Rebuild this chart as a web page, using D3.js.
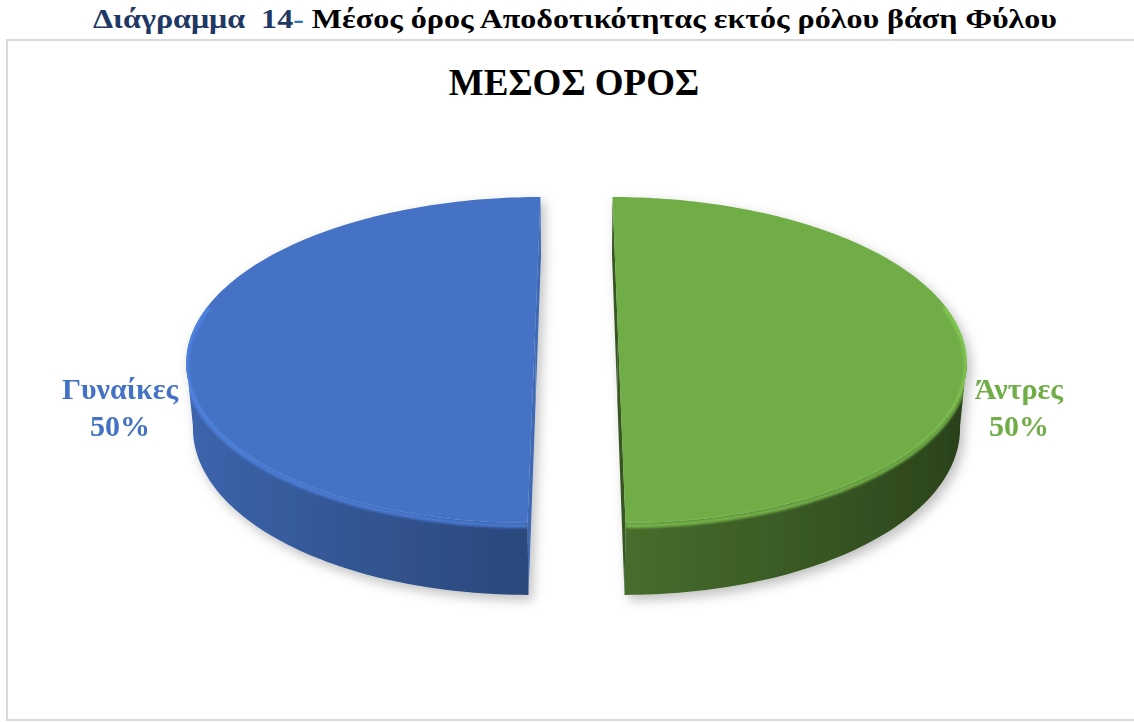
<!DOCTYPE html>
<html>
<head>
<meta charset="utf-8">
<script src="https://cdn.jsdelivr.net/npm/d3@7"></script>
<style>
  body { margin: 0; background: #fff; }
  svg { display: block; }
  text { font-family: "Liberation Serif", "Times New Roman", serif; font-weight: bold; }
</style>
</head>
<body>
<svg id="chart" width="1134" height="722"></svg>
<script>
// ---- data ----
const categories = ["Άντρες", "Γυναίκες"];
const values = [50, 50];
const colors = ["#70AD47", "#4472C4"];
const headingParts = [
  ["Διάγραμμα  14", "#1F3864"],
  ["-", "#2E74B5"],
  [" Μέσος όρος Αποδοτικότητας εκτός ρόλου βάση Φύλου", "#000000"]
];
const chartTitle = "ΜΕΣΟΣ ΟΡΟΣ";

// ---- layout ----
const svg = d3.select("#chart");

// 3D view of the pie: unit-radius disc, tilted and seen in perspective
const view = {
  cx: 576.5, cy: 335.1, scale: 343.7,
  tilt: Math.asin(0.463), dist: 5.81,
  depth: 0.215, explode: 0.1208
};
const sinT = Math.sin(view.tilt), cosT = Math.cos(view.tilt);
const sx = d3.scaleLinear().domain([0, 1]).range([view.cx, view.cx + view.scale]);
const sy = d3.scaleLinear().domain([0, 1]).range([view.cy, view.cy + view.scale]);

function project(X, Y, Z) {
  const c = Y * sinT + Z * cosT;
  const s = view.dist / (view.dist - c);
  return [sx(X * s), sy((Z * sinT - Y * cosT) * s)];
}

// frame
svg.append("rect")
  .attr("x", 7).attr("y", 40).attr("width", 1140).attr("height", 680)
  .attr("fill", "#fff").attr("stroke", "#d9d9d9").attr("stroke-width", 2);

// heading above the frame
const heading = svg.append("text")
  .attr("x", 93).attr("y", 28)
  .attr("font-size", 28)
  .attr("textLength", 964).attr("lengthAdjust", "spacingAndGlyphs")
  .style("white-space", "pre");
headingParts.forEach(([t, c]) => heading.append("tspan").attr("fill", c).text(t));

// chart title
svg.append("text")
  .attr("x", 574).attr("y", 95)
  .attr("text-anchor", "middle")
  .attr("font-size", 37).attr("fill", "#000")
  .text(chartTitle);

// ---- filters ----
const defs = svg.append("defs");
const shadow = defs.append("filter").attr("id", "pieShadow")
  .attr("x", "-10%").attr("y", "-10%").attr("width", "130%").attr("height", "140%");
shadow.append("feDropShadow")
  .attr("dx", 4).attr("dy", 5).attr("stdDeviation", 6)
  .attr("flood-color", "#000").attr("flood-opacity", 0.25);
const soft = defs.append("filter").attr("id", "soften");
soft.append("feGaussianBlur").attr("stdDeviation", 1.3);

// ---- pie ----
const pie = d3.pie().sort(null).startAngle(0).endAngle(2 * Math.PI);
const arcs = pie(values);
const total = d3.sum(values);
const pct = d3.format(".0%");
const line = d3.line();
const N = 160;

function shade(base, f) {
  const c = d3.rgb(base);
  return d3.rgb(c.r * f, c.g * f, c.b * f).formatHex();
}
// side brightness: lit from the left, darker toward the right
const sideLight = a => 0.63 + 0.27 * (-Math.sin(a));

const sliceInfo = arcs.map((d, i) => {
  const mid = (d.startAngle + d.endAngle) / 2;
  const ox = view.explode * Math.sin(mid), oz = -view.explode * Math.cos(mid);
  const rim = (a, Y) => project(ox + Math.sin(a), Y, oz - Math.cos(a));
  const ctr = (Y) => project(ox, Y, oz);
  const angles = d3.range(N + 1).map(j => d.startAngle + (d.endAngle - d.startAngle) * j / N);
  return { d, i, mid, ox, oz, rim, ctr, angles, color: colors[i] };
});

const pieG = svg.append("g").attr("filter", "url(#pieShadow)");

sliceInfo.forEach(s => {
  const g = pieG.append("g").attr("class", "slice");
  const H = -view.depth;
  const side = Math.sin(s.mid) >= 0 ? 1 : -1;

  // cut face along the diameter (thin sliver in this view)
  [s.d.startAngle, s.d.endAngle].forEach(a => {
    g.append("path")
      .attr("d", line([s.ctr(0), s.rim(a, 0), s.rim(a, H), s.ctr(H)]) + "Z")
      .attr("fill", shade(s.color, side > 0 ? 0.5 : 0.92));
  });

  // outer side (visible front part only) with a horizontal shading gradient
  const topRim = s.angles.map(a => s.rim(a, 0));
  const ext = side > 0 ? d3.greatestIndex(topRim, p => p[0]) : d3.leastIndex(topRim, p => p[0]);
  const zLimit = -Math.cos(s.angles[ext]) - 0.02;
  const vis = s.angles.filter(a => -Math.cos(a) >= zLimit);
  const stops = vis.map(a => ({ x: s.rim(a, 0)[0], c: shade(s.color, sideLight(a)) }))
    .sort((p, q) => p.x - q.x);
  const x1 = stops[0].x, x2 = stops[stops.length - 1].x;
  const gradId = "side" + s.i;
  const grad = defs.append("linearGradient").attr("id", gradId)
    .attr("gradientUnits", "userSpaceOnUse")
    .attr("x1", x1).attr("x2", x2).attr("y1", 0).attr("y2", 0);
  stops.filter((p, k) => k % 6 === 0 || k === stops.length - 1).forEach(p => {
    grad.append("stop").attr("offset", (p.x - x1) / (x2 - x1)).attr("stop-color", p.c);
  });
  const sidePts = vis.map(a => s.rim(a, 0)).concat(vis.slice().reverse().map(a => s.rim(a, H)));
  g.append("path")
    .attr("d", line(sidePts) + "Z")
    .attr("fill", `url(#${gradId})`);

  // top face
  const topPts = [s.ctr(0)].concat(topRim);
  g.append("path")
    .attr("d", line(topPts) + "Z")
    .attr("fill", s.color);

  // rounded rim highlight along the visible front edge
  const clipId = "clip" + s.i;
  const cp = defs.append("clipPath").attr("id", clipId);
  cp.append("path").attr("d", line(topPts) + "Z");
  cp.append("path").attr("d", line(sidePts) + "Z");
  const front = s.angles.filter(a => -Math.cos(a) > -0.2);
  g.append("path")
    .attr("d", line(front.map(a => s.rim(a, -0.008))))
    .attr("fill", "none")
    .attr("stroke", d3.color(s.color).brighter(0.5))
    .attr("stroke-width", 5).attr("stroke-opacity", 0.7)
    .attr("filter", "url(#soften)")
    .attr("clip-path", `url(#${clipId})`);
});

// ---- labels ----
sliceInfo.forEach(s => {
  const side = Math.sin(s.mid) >= 0 ? 1 : -1;
  const pts = s.angles.map(a => s.rim(a, 0));
  const ext = side > 0 ? d3.greatest(pts, p => p[0]) : d3.least(pts, p => p[0]);
  const lines = [categories[s.i], pct(values[s.i] / total)];
  const t = svg.append("text")
    .attr("font-size", 30).attr("fill", s.color).attr("text-anchor", "middle");
  const spans = lines.map((l, k) => t.append("tspan").attr("y", ext[1] + 35 + k * 37).text(l));
  const w = d3.max(spans, sp => sp.node().getComputedTextLength());
  const x = ext[0] + side * (8 + w / 2);
  spans.forEach(sp => sp.attr("x", x));
});
</script>
</body>
</html>
